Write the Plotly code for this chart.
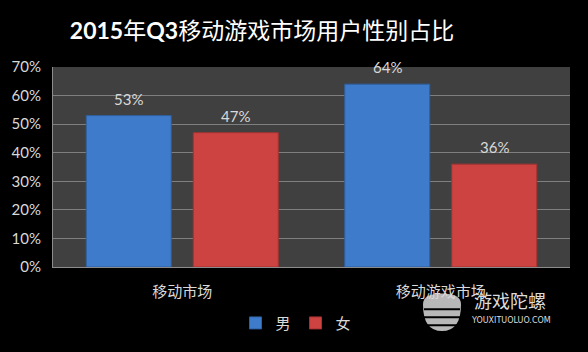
import plotly.graph_objects as go

categories = ["移动市场", "移动游戏市场"]
male = [53, 64]
female = [47, 36]
series_names = ["男", "女"]
y_ticks = [0, 10, 20, 30, 40, 50, 60, 70]
y_tick_labels = [f"{v}%" for v in y_ticks]

W, H = 588, 352
L, R, T, B = 53, 18, 67, 82

font_lat = "Lato, 'Noto Sans CJK SC', sans-serif"
font_cjk = "'Noto Sans CJK SC', Lato, sans-serif"
txt = "#d9d9d9"

fig = go.Figure()
fig.add_trace(go.Bar(name=series_names[0], x=categories, y=male,
                     marker=dict(color="#3f7bcb", line=dict(color="#2f5f9f", width=1))))
fig.add_trace(go.Bar(name=series_names[1], x=categories, y=female,
                     marker=dict(color="#cd4341", line=dict(color="#a33331", width=1))))

# value labels
offsets = [-0.5 * 0.828 / 2, 0.5 * 0.828 / 2]
anns = []
for si, vals in enumerate([male, female]):
    for ci, v in enumerate(vals):
        anns.append(dict(x=ci + offsets[si], y=v, xref="x", yref="y", text=f"{v}%",
                         showarrow=False, yshift=17,
                         font=dict(family=font_lat, size=15, color=txt)))


def px(xp, yp):
    return (xp - L) / (W - L - R), (270 - yp) / (H - T - B)


# watermark text
wx, wy = px(510, 318)
anns.append(dict(x=wx, y=wy, xref="paper", yref="paper", xanchor="center", yanchor="bottom",
                 text="游戏陀螺", showarrow=False, borderpad=0,
                 font=dict(family=font_cjk, size=18, color="#dcdcdc")))
wx, wy = px(511, 319)
anns.append(dict(x=wx, y=wy, xref="paper", yref="paper", xanchor="center", yanchor="top",
                 text="YOUXITUOLUO.COM", showarrow=False, borderpad=0,
                 font=dict(family="'DejaVu Sans', sans-serif", size=8, color="#dcdcdc")))

fig.update_layout(
    width=W, height=H,
    margin=dict(l=L, r=R, t=T, b=B),
    paper_bgcolor="#000000",
    plot_bgcolor="#404040",
    barmode="group",
    bargap=0.172,
    bargroupgap=0.206,
    title=dict(text="<b>2015</b>年<b>Q3</b>移动游戏市场用户性别占比",
               x=(262) / W, xanchor="center", y=1 - 31 / H, yanchor="middle",
               font=dict(family=font_lat, size=23, color="#ffffff")),
    showlegend=True,
    legend=dict(orientation="h", x=(296 - L) / (W - L - R), xanchor="center",
                y=(270 - 327) / (H - T - B), yanchor="middle",
                font=dict(family=font_cjk, size=15, color=txt),
                bgcolor="rgba(0,0,0,0)", itemwidth=30, traceorder="normal"),
    annotations=anns,
    xaxis=dict(showgrid=False, showline=True, linecolor="#8c8c8c", linewidth=1,
               ticks="outside", ticklen=11, tickcolor="rgba(0,0,0,0)",
               tickfont=dict(family=font_cjk, size=15, color=txt)),
    yaxis=dict(range=[0, 70], tickmode="array", tickvals=y_ticks, ticktext=y_tick_labels,
               showgrid=True, gridcolor="#7f7f7f", gridwidth=1,
               showline=True, linecolor="#8c8c8c", linewidth=1,
               ticks="outside", ticklen=8, tickcolor="rgba(0,0,0,0)",
               zeroline=False,
               tickfont=dict(family=font_lat, size=15, color=txt)),
)

# watermark logo (decorative)
x0, y0 = px(423, 297)
x1, y1 = px(461, 335)
xm, _ = px(442, 0)
_, ym = px(0, 308)
fig.add_shape(type="path", xref="paper", yref="paper",
              path=f"M {x0},{ym} Q {x0},{y0} {xm},{y0} Q {x1},{y0} {x1},{ym} Q {x1},{y1} {xm},{y1} Q {x0},{y1} {x0},{ym} Z",
              fillcolor="#b8b8b8", line=dict(width=0), layer="below")
for yy in [313, 321, 329]:
    a, b_ = px(424, yy)
    c, _ = px(460, yy)
    fig.add_shape(type="line", xref="paper", yref="paper", x0=a, y0=b_, x1=c, y1=b_,
                  line=dict(color="#000000", width=2), layer="below")

fig.write_html("out.html")
